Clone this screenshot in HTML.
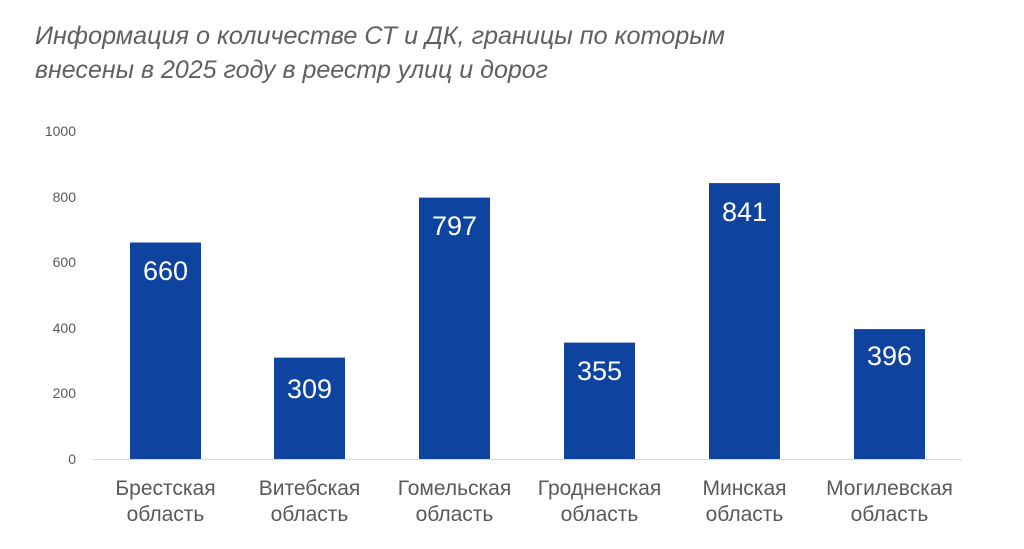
<!DOCTYPE html>
<html><head><meta charset="utf-8"><style>
html,body{margin:0;padding:0;background:#fff;width:1024px;height:549px;overflow:hidden}
svg{display:block;font-family:"Liberation Sans",sans-serif}
</style></head><body>
<svg width="1024" height="549" viewBox="0 0 1024 549">
<g font-style="italic" fill="#606060" font-size="25.2">
<text x="35" y="44" textLength="690" lengthAdjust="spacingAndGlyphs">Информация о количестве СТ и ДК, границы по которым</text>
<text x="35" y="78" textLength="513" lengthAdjust="spacingAndGlyphs">внесены в 2025 году в реестр улиц и дорог</text>
</g>
<g font-size="14" fill="#595959" text-anchor="end">
<text x="76" y="136">1000</text>
<text x="76" y="202">800</text>
<text x="76" y="267">600</text>
<text x="76" y="333">400</text>
<text x="76" y="398">200</text>
<text x="76" y="464">0</text>
</g>
<line x1="93" y1="459.5" x2="962" y2="459.5" stroke="#d9d9d9" stroke-width="1"/>
<g fill="#0E44A0">
<rect x="130" y="242.5" width="71" height="216.5"/>
<rect x="274" y="357.6" width="71" height="101.4"/>
<rect x="419" y="197.6" width="71" height="261.4"/>
<rect x="564" y="342.6" width="71" height="116.4"/>
<rect x="709" y="183.1" width="71" height="275.9"/>
<rect x="854" y="329.1" width="71" height="129.9"/>
</g>
<g fill="#fff" font-size="27" text-anchor="middle">
<text x="165.5" y="280">660</text>
<text x="309.5" y="398">309</text>
<text x="454.5" y="235">797</text>
<text x="599.5" y="380">355</text>
<text x="744.5" y="221">841</text>
<text x="889.5" y="365">396</text>
</g>
<g fill="#595959" font-size="21" text-anchor="middle">
<text x="165.5" y="495">Брестская</text><text x="165.5" y="521">область</text>
<text x="309.5" y="495">Витебская</text><text x="309.5" y="521">область</text>
<text x="454.5" y="495">Гомельская</text><text x="454.5" y="521">область</text>
<text x="599.5" y="495">Гродненская</text><text x="599.5" y="521">область</text>
<text x="744.5" y="495">Минская</text><text x="744.5" y="521">область</text>
<text x="889.5" y="495">Могилевская</text><text x="889.5" y="521">область</text>
</g>
</svg>
</body></html>
